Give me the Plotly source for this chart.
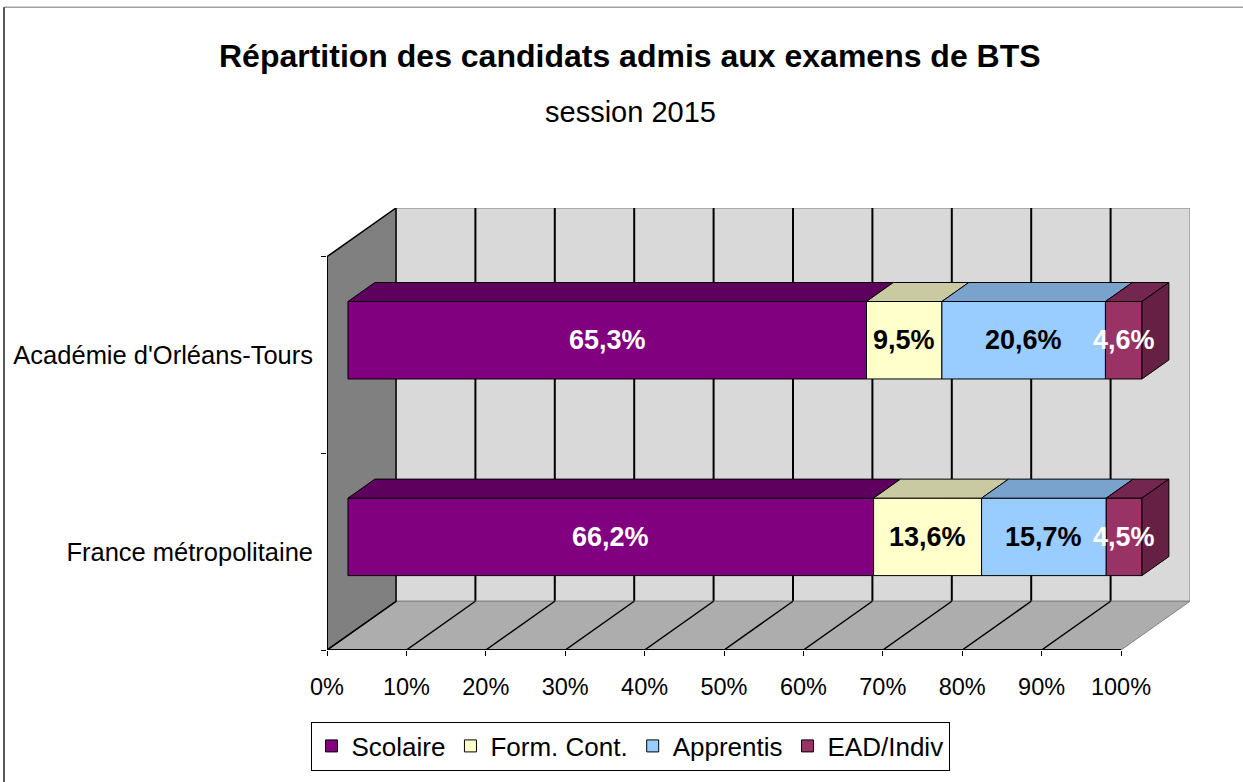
import plotly.graph_objects as go

# ---------------- data ----------------
categories = ["France métropolitaine", "Académie d'Orléans-Tours"]
series_names = ["Scolaire", "Form. Cont.", "Apprentis", "EAD/Indiv"]
scolaire = [66.2, 65.3]
form_cont = [13.6, 9.5]
apprentis = [15.7, 20.6]
ead_indiv = [4.5, 4.6]
x_tick_values = [0, 10, 20, 30, 40, 50, 60, 70, 80, 90, 100]
x_tick_labels = ["0%", "10%", "20%", "30%", "40%", "50%", "60%", "70%", "80%", "90%", "100%"]
title_text = "Répartition des candidats admis aux examens de BTS"
subtitle_text = "session 2015"

# ---------------- styling ----------------
series = [scolaire, form_cont, apprentis, ead_indiv]
front_colors = ["#800080", "#FFFFCC", "#99CCFF", "#993366"]
top_colors = ["#5E005E", "#C9C9A2", "#79A2CC", "#722650"]
side_color = "#662043"
label_colors = ["white", "black", "black", "white"]
FONT = "Arial, Liberation Sans, sans-serif"

# oblique 3D projection constants (depth offsets in data units)
DX = 8.69      # depth shift along x (percent units)
DY = 0.248     # depth shift along y (category units)
D0 = 0.304     # bar front depth fraction
D1 = 0.694     # bar back depth fraction
BAR_W = 0.394  # bar thickness (category units)

W, H = 1243, 782
ML, MR, MT, MB = 327, 53, 208, 129
PH = H - MT - MB
PW = W - ML - MR


def py2paper(py):
    return (H - MB - py) / PH


def px2paper(px):
    return (px - ML) / PW


n_cat = len(categories)
centers = [i + 0.5 for i in range(n_cat)]

fig = go.Figure()
annotations = []

# front faces (bars)
cum = [0.0] * n_cat
bounds = []
for s, (name, vals) in enumerate(zip(series_names, series)):
    starts = list(cum)
    ends = [c + v for c, v in zip(cum, vals)]
    bounds.append((starts, ends))
    fig.add_trace(go.Bar(
        orientation="h",
        name=name,
        y=[c + DY * D0 for c in centers],
        x=vals,
        base=[st + DX * D0 for st in starts],
        width=BAR_W,
        marker=dict(color=front_colors[s], line=dict(color="black", width=1)),
        hoverinfo="skip",
        cliponaxis=False,
    ))
    for i, v in enumerate(vals):
        annotations.append(dict(
            text="<b>" + ("%.1f%%" % v).replace(".", ",") + "</b>",
            xref="x", yref="y", x=(starts[i] + ends[i]) / 2 + DX * D0, y=centers[i] + DY * D0,
            xanchor="center", yanchor="middle", showarrow=False,
            font=dict(size=27, family=FONT, color=label_colors[s]),
        ))
    cum = ends

# top faces
for s in range(len(series)):
    starts, ends = bounds[s]
    xs, ys = [], []
    for i, c in enumerate(centers):
        yt0 = c + BAR_W / 2 + DY * D0
        yt1 = c + BAR_W / 2 + DY * D1
        x0, x1 = starts[i], ends[i]
        xs += [x0 + DX * D0, x1 + DX * D0, x1 + DX * D1, x0 + DX * D1, x0 + DX * D0, None]
        ys += [yt0, yt0, yt1, yt1, yt0, None]
    fig.add_trace(go.Scatter(
        x=xs, y=ys, mode="lines", fill="toself", fillcolor=top_colors[s],
        line=dict(color="black", width=1), showlegend=False, hoverinfo="skip",
        cliponaxis=False,
    ))

# side face of last segment
starts, ends = bounds[-1]
xs, ys = [], []
for i, c in enumerate(centers):
    yb0 = c - BAR_W / 2 + DY * D0
    yt0 = c + BAR_W / 2 + DY * D0
    yb1 = c - BAR_W / 2 + DY * D1
    yt1 = c + BAR_W / 2 + DY * D1
    x1 = ends[i]
    xs += [x1 + DX * D0, x1 + DX * D0, x1 + DX * D1, x1 + DX * D1, x1 + DX * D0, None]
    ys += [yb0, yt0, yt1, yb1, yb0, None]
fig.add_trace(go.Scatter(
    x=xs, y=ys, mode="lines", fill="toself", fillcolor=side_color,
    line=dict(color="black", width=1), showlegend=False, hoverinfo="skip",
    cliponaxis=False,
))

# ---------------- walls (decoration) ----------------
xmax = x_tick_values[-1]
ymax = float(n_cat)
shapes = []
# back wall
shapes.append(dict(type="rect", xref="x", yref="y", x0=DX, x1=xmax + DX, y0=DY, y1=ymax + DY,
                   fillcolor="#D9D9D9", line=dict(color="#808080", width=1), layer="below"))
for v in x_tick_values[1:-1]:
    shapes.append(dict(type="line", xref="x", yref="y", x0=v + DX, x1=v + DX, y0=DY, y1=ymax + DY,
                       line=dict(color="black", width=2), layer="below"))
# floor
shapes.append(dict(type="path", xref="x", yref="y",
                   path=f"M0,0 L{xmax},0 L{xmax + DX},{DY} L{DX},{DY} Z",
                   fillcolor="#ADADAD", line=dict(color="#808080", width=1), layer="below"))
for v in x_tick_values[:-1]:
    shapes.append(dict(type="line", xref="x", yref="y", x0=v, x1=v + DX, y0=0, y1=DY,
                       line=dict(color="black", width=1.5), layer="below"))
# left wall
shapes.append(dict(type="path", xref="x", yref="y",
                   path=f"M0,0 L{DX},{DY} L{DX},{ymax + DY} L0,{ymax} Z",
                   fillcolor="#808080", line=dict(color="black", width=1.5), layer="below"))
# front axis edges
shapes.append(dict(type="line", xref="x", yref="y", x0=0, x1=xmax, y0=0, y1=0,
                   line=dict(color="black", width=2), layer="below"))
shapes.append(dict(type="line", xref="x", yref="y", x0=0, x1=0, y0=0, y1=ymax,
                   line=dict(color="black", width=2), layer="below"))
# outer chart frame
shapes.append(dict(type="line", xref="paper", yref="paper", x0=px2paper(4), x1=px2paper(1260),
                   y0=py2paper(6), y1=py2paper(6), line=dict(color="#A0A0A0", width=1.5)))
shapes.append(dict(type="line", xref="paper", yref="paper", x0=px2paper(4), x1=px2paper(4),
                   y0=py2paper(6), y1=py2paper(800), line=dict(color="#222222", width=1.5)))

annotations += [
    dict(text="<b>" + title_text + "</b>", xref="paper", yref="paper", x=px2paper(630), y=py2paper(55),
         xanchor="center", yanchor="middle", showarrow=False, font=dict(size=32, family=FONT, color="black")),
    dict(text=subtitle_text, xref="paper", yref="paper", x=px2paper(630), y=py2paper(111),
         xanchor="center", yanchor="middle", showarrow=False, font=dict(size=29, family=FONT, color="black")),
]

fig.update_layout(
    width=W, height=H,
    margin=dict(l=ML, r=MR, t=MT, b=MB, pad=0),
    paper_bgcolor="white", plot_bgcolor="rgba(0,0,0,0)",
    barmode="overlay",
    font=dict(family=FONT, color="black"),
    shapes=shapes,
    annotations=annotations,
    showlegend=True,
    legend=dict(orientation="h", x=px2paper(630), xanchor="center", y=py2paper(725), yanchor="top",
                bgcolor="white", bordercolor="black", borderwidth=1,
                font=dict(size=26, family=FONT, color="black"), traceorder="normal"),
    xaxis=dict(range=[0, xmax + DX], tickvals=x_tick_values, ticktext=x_tick_labels,
               showgrid=False, zeroline=False, showline=False, ticks="outside", ticklen=5,
               tickcolor="black", tickwidth=1, tickfont=dict(size=23.5, family=FONT, color="black"),
               ticklabelstandoff=11, fixedrange=True),
    yaxis=dict(range=[0, ymax + DY], tickvals=centers, ticktext=categories,
               showgrid=False, zeroline=False, showline=False, ticks="",
               minor=dict(tick0=0, dtick=1, ticks="outside", ticklen=5, tickcolor="black", showgrid=False),
               tickfont=dict(size=25.5, family=FONT, color="black"), ticklabelstandoff=13, fixedrange=True),
)

fig.write_html("out.html", config={"displayModeBar": False},
               post_script="document.body.style.margin='0';document.body.style.overflow='hidden';")
